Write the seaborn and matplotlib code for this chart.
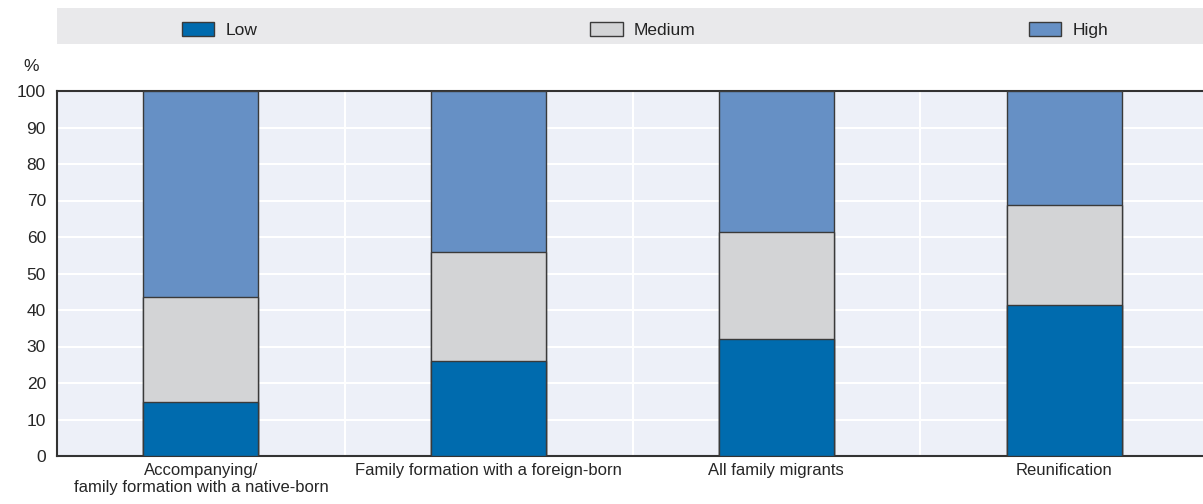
import numpy as np
import pandas as pd
import matplotlib
matplotlib.use("Agg")
import matplotlib.pyplot as plt
import seaborn as sns

categories = ["Accompanying/\nfamily formation with a native-born",
              "Family formation with a foreign-born",
              "All family migrants",
              "Reunification"]
low = [14.8, 26.0, 32.0, 41.4]
medium = [28.8, 29.9, 29.4, 27.5]
high = [56.4, 44.1, 38.6, 31.1]

series = ["Low", "Medium", "High"]
colors = {"Low": "#006BAE", "Medium": "#D3D4D6", "High": "#6690C5"}

sns.set_style("white")
plt.rcParams["font.family"] = ["Liberation Sans", "DejaVu Sans"]
plt.rcParams["text.color"] = "#222222"

df = pd.DataFrame({"category": categories, "Low": low, "Medium": medium, "High": high})
df["cum_low"] = df["Low"]
df["cum_medium"] = df["Low"] + df["Medium"]
df["cum_high"] = df["Low"] + df["Medium"] + df["High"]

fig = plt.figure(figsize=(12.03, 5.04), dpi=100)
ax = fig.add_axes([57 / 1203, 48 / 504, 1151 / 1203, 365 / 504])
ax.set_facecolor("#EDF0F8")

# draw tallest first, so the shorter segments sit on top
for name, col in [("High", "cum_high"), ("Medium", "cum_medium"), ("Low", "cum_low")]:
    sns.barplot(data=df, x="category", y=col, color=colors[name], width=0.4,
                edgecolor="#3a3a3a", linewidth=1.0, saturation=1, label=name,
                ax=ax, zorder=3)

ax.set_xlim(-0.5, 3.5)
ax.set_ylim(0, 100)
ax.set_yticks(range(0, 101, 10))
ax.set_xticks([0.5, 1.5, 2.5], minor=True)
ax.grid(axis="y", which="major", color="white", linewidth=1.5, zorder=1)
ax.grid(axis="x", which="minor", color="white", linewidth=1.5, zorder=1)
ax.set_axisbelow(True)
ax.tick_params(axis="x", which="major", length=0, labelsize=12, pad=5)
ax.tick_params(axis="x", which="minor", direction="in", length=4, width=1.2, color="#333333")
ax.tick_params(axis="y", direction="in", length=3, width=1, color="#333333", labelsize=12.5, pad=8)
ax.set_xlabel("")
ax.set_ylabel("")
for s in ["left", "bottom", "top"]:
    ax.spines[s].set_visible(True)
    ax.spines[s].set_color("#333333")
    ax.spines[s].set_linewidth(1.5)
ax.spines["right"].set_visible(False)
ax.text(-0.016, 1.068, "%", transform=ax.transAxes, ha="right", va="center", fontsize=12.5)

if ax.get_legend() is not None:
    ax.get_legend().remove()
handles, labels = ax.get_legend_handles_labels()
order = [labels.index(s) for s in series]

leg_ax = fig.add_axes([57 / 1203, (504 - 44) / 504, 1146 / 1203, 36 / 504])
leg_ax.set_facecolor("#E9E9EB")
leg_ax.set_xticks([])
leg_ax.set_yticks([])
for s in leg_ax.spines.values():
    s.set_visible(False)
leg_ax.legend([handles[i] for i in order], [labels[i] for i in order],
              loc="center", bbox_to_anchor=(0.513, 0.4), ncol=3, frameon=False,
              fontsize=12.5, handlelength=1.85, handleheight=0.9, handletextpad=0.65,
              columnspacing=19.2)

fig.savefig("out.png", dpi=100)
